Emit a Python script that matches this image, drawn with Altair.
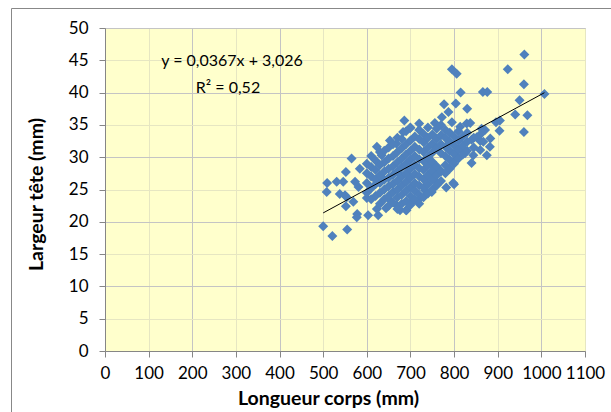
import altair as alt
import pandas as pd

# Body length (mm) and head width (mm)
longueur = [
    500, 521, 555, 509, 531, 546, 508, 538, 550, 554, 552, 569, 565, 584, 552,
    578, 577, 603, 626, 623, 644, 600, 653, 668, 691, 573, 581,
    961, 923, 795, 806, 960, 815, 866, 876, 1007, 950, 777, 804, 830, 940, 968,
    960, 904, 686, 720, 756,
    840, 875, 782, 800, 798, 883, 905, 896, 871, 772, 787, 795, 837, 814, 863, 840,
    882, 867, 821, 756, 733, 768, 798, 752, 745,
    623, 634, 653, 668, 683, 699,
    852, 829, 821, 825, 844, 860, 699, 722, 749, 676,
    600, 600, 600, 600,
    610, 610, 610, 610, 610,
    620, 620, 620, 620, 620,
    630, 630, 630, 630, 630, 630,
    640, 640, 640, 640, 640, 640,
    650, 650, 650, 650, 650, 650, 650,
    660, 660, 660, 660, 660, 660, 660,
    670, 670, 670, 670, 670, 670, 670, 670,
    680, 680, 680, 680, 680, 680, 680, 680,
    690, 690, 690, 690, 690, 690, 690, 690, 690,
    700, 700, 700, 700, 700, 700, 700, 700, 700,
    710, 710, 710, 710, 710, 710, 710, 710,
    720, 720, 720, 720, 720, 720, 720, 720, 720,
    730, 730, 730, 730, 730, 730, 730, 730,
    740, 740, 740, 740, 740, 740, 740, 740,
    750, 750, 750, 750, 750, 750, 750,
    760, 760, 760, 760, 760, 760,
    770, 770, 770, 770, 770, 770,
    780, 780, 780, 780, 780, 780,
    790, 790, 790, 790, 790,
    800, 800, 800, 800,
    810, 810, 810, 810,
    820, 820, 820,
    830, 830, 830,
    845, 845,
    860, 860,
]
largeur = [
    19.3, 17.8, 18.8, 26.0, 26.2, 26.2, 24.6, 24.3, 24.1, 23.8, 22.4, 23.1, 29.8, 28.2, 27.7,
    21.2, 20.7, 21.0, 21.0, 22.0, 22.1, 23.7, 23.4, 22.6, 21.8, 26.2, 25.4,
    45.9, 43.6, 43.6, 42.9, 41.3, 40.0, 40.1, 40.1, 39.8, 38.8, 38.2, 38.3, 37.5, 36.6, 36.5,
    33.9, 34.1, 35.7, 35.2, 35.3,
    29.1, 30.3, 25.3, 25.8, 26.0, 32.9, 35.7, 35.4, 34.2, 36.2, 37.0, 35.4, 35.3, 34.7, 34.4, 32.7,
    31.6, 32.4, 30.8, 26.4, 24.9, 28.0, 29.3, 28.5, 27.5,
    31.6, 30.3, 32.6, 32.1, 33.9, 34.5,
    33.1, 35.2, 31.3, 30.6, 30.3, 31.1, 22.8, 23.6, 24.6, 21.8,
    24.5, 26.0, 27.5, 29.0,
    23.5, 25.2, 27.0, 28.5, 30.2,
    24.0, 25.8, 26.5, 28.0, 29.5,
    22.8, 24.5, 26.0, 27.2, 28.8, 30.8,
    23.5, 25.0, 26.5, 27.8, 29.2, 31.0,
    22.5, 24.0, 25.5, 26.8, 28.2, 29.8, 31.5,
    23.0, 24.6, 25.9, 27.3, 28.6, 30.2, 32.0,
    22.0, 23.8, 25.0, 26.4, 27.8, 29.2, 30.8, 33.0,
    22.8, 24.2, 25.6, 27.0, 28.4, 29.8, 31.4, 32.8,
    21.8, 23.2, 24.8, 26.2, 27.5, 29.0, 30.4, 32.0, 34.0,
    22.6, 24.0, 25.4, 26.8, 28.2, 29.6, 31.0, 32.6, 34.6,
    23.4, 24.8, 26.0, 27.4, 28.8, 30.2, 31.6, 33.2,
    22.8, 24.2, 25.6, 27.0, 28.3, 29.7, 31.2, 32.8, 34.2,
    23.8, 25.3, 26.6, 28.0, 29.4, 30.8, 32.3, 33.6,
    24.4, 25.8, 27.2, 28.7, 30.0, 31.5, 33.0, 34.6,
    25.0, 26.5, 27.9, 29.3, 30.7, 32.1, 33.5,
    25.6, 27.2, 28.6, 31.4, 32.8, 34.4,
    26.3, 27.8, 30.6, 32.0, 33.4, 35.0,
    27.5, 28.8, 30.2, 31.6, 33.0, 34.2,
    28.2, 29.6, 31.0, 32.4, 33.8,
    29.0, 30.5, 31.8, 33.2,
    29.8, 31.2, 32.6, 34.0,
    30.4, 31.8, 33.2,
    31.0, 32.4, 33.8,
    31.5, 33.0,
    32.5, 33.5,
]

# Trendline as printed on the chart
pente = 0.0367
ordonnee = 3.026
trend_x = [500, 1007]
equation = "y = 0,0367x + 3,026"
r2_text = "R² = 0,52"

x_ticks = list(range(0, 1101, 100))
y_ticks = list(range(0, 51, 5))

n = min(len(longueur), len(largeur))
df = pd.DataFrame({"Longueur": longueur[:n], "Largeur": largeur[:n]})
trend_df = pd.DataFrame({"Longueur": trend_x, "Largeur": [pente * v + ordonnee for v in trend_x]})

grid_color = {"condition": {"test": "datum.value % 200 === 0", "value": "#c4c4c4"}, "value": "#e6e6c2"}
grid_color_y = {"condition": {"test": "datum.value % 10 === 0", "value": "#c4c4c4"}, "value": "#e6e6c2"}

xs = alt.Scale(domain=[0, 1100], nice=False)
ys = alt.Scale(domain=[0, 50], nice=False)

x_axis = alt.Axis(values=x_ticks, format="d", title="Longueur corps (mm)", gridColor=grid_color,
                  domainColor="#868686", tickColor="#868686", tickSize=6,
                  labelFontSize=17, labelColor="#000000", labelPadding=8,
                  labelFlush=False, labelOverlap=False, titleFontSize=19.5,
                  titleFontWeight="bold", titleColor="#000000", titleX=223, titleY=47,
                  titleAlign="center", titleBaseline="middle")
y_axis = alt.Axis(values=y_ticks, format="d", title="Largeur tête (mm)", gridColor=grid_color_y,
                  domainColor="#868686", tickColor="#868686", tickSize=6,
                  labelFontSize=17, labelColor="#000000", labelPadding=11,
                  labelFlush=False, labelOverlap=False, titleFontSize=19.5,
                  titleFontWeight="bold", titleColor="#000000", titleX=-69, titleY=166,
                  titleBaseline="middle", titleAlign="center")

points = alt.Chart(df).mark_point(shape="diamond", filled=True, size=100,
                                  color="#4f81bd", opacity=1).encode(
    x=alt.X("Longueur:Q", scale=xs, axis=x_axis),
    y=alt.Y("Largeur:Q", scale=ys, axis=y_axis),
)

trend = alt.Chart(trend_df).mark_line(color="#000000", strokeWidth=1).encode(
    x=alt.X("Longueur:Q", scale=xs, axis=x_axis),
    y=alt.Y("Largeur:Q", scale=ys, axis=y_axis),
)

one = alt.Data(values=[{}])
eq_text = alt.Chart(one).mark_text(fontSize=16, color="#000000", align="center",
                                   baseline="middle").encode(
    x=alt.value(127), y=alt.value(33), text=alt.value(equation))
r2 = alt.Chart(one).mark_text(fontSize=16, color="#000000", align="center",
                              baseline="middle").encode(
    x=alt.value(123), y=alt.value(60), text=alt.value(r2_text))

border_v = alt.Chart(one).mark_rule(color="#888888", strokeWidth=1).encode(
    x=alt.value(-93.5), y=alt.value(-19.5), y2=alt.value(400))
border_h = alt.Chart(one).mark_rule(color="#888888", strokeWidth=1).encode(
    x=alt.value(-93.5), x2=alt.value(520), y=alt.value(-19.5))

chart = alt.layer(points, trend, eq_text, r2, border_v, border_h).properties(
    width=480, height=323,
    autosize=alt.AutoSizeParams(type="none"),
    padding={"left": 105, "top": 28, "right": 26, "bottom": 61},
    background="#ffffff",
).configure(font="Lato").configure_view(fill="#ffffcc", stroke="#c0c0c0")

chart.save("out.html", embed_options={"renderer": "svg", "actions": False})
